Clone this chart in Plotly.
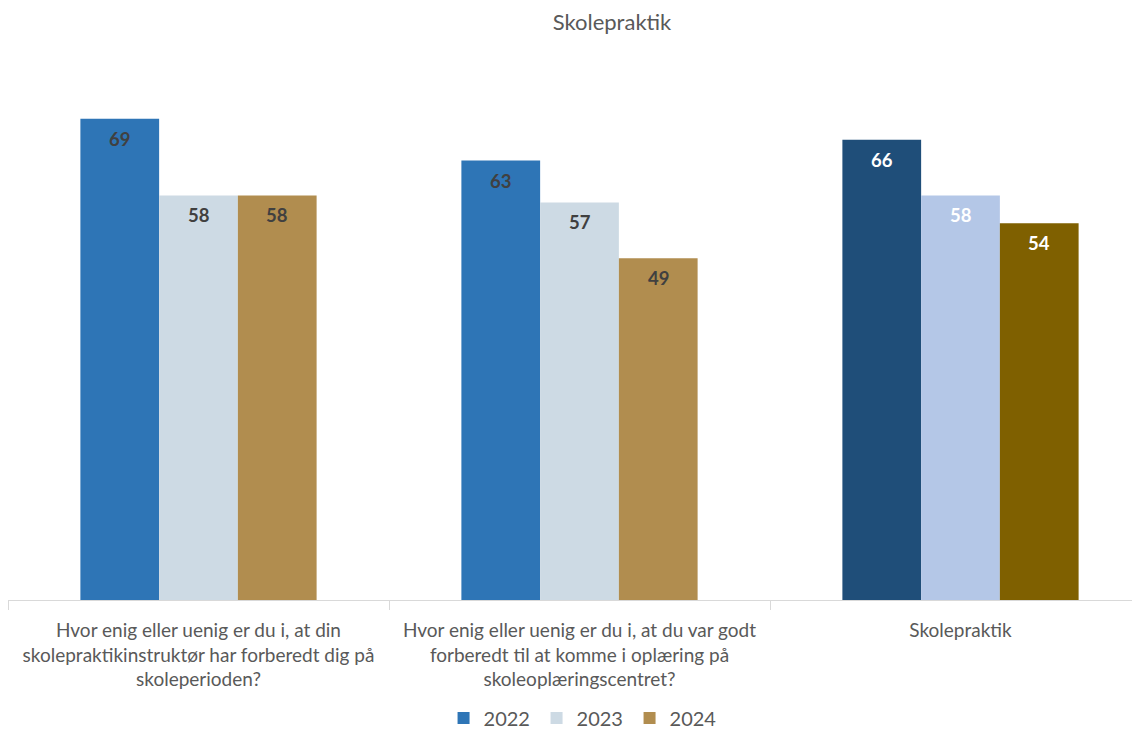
import plotly.graph_objects as go

categories = [
    "Hvor enig eller uenig er du i, at din<br>skolepraktikinstruktør har forberedt dig på<br>skoleperioden?",
    "Hvor enig eller uenig er du i, at du var godt<br>forberedt til at komme i oplæring på<br>skoleoplæringscentret?",
    "Skolepraktik",
]
years = ["2022", "2023", "2024"]
values_2022 = [69, 63, 66]
values_2023 = [58, 57, 58]
values_2024 = [58, 49, 54]

colors_2022 = ["#2E75B6", "#2E75B6", "#1F4E79"]
colors_2023 = ["#CDDAE4", "#CDDAE4", "#B4C7E7"]
colors_2024 = ["#B18D4F", "#B18D4F", "#7F6000"]
label_colors = ["#404040", "#404040", "#FFFFFF"]

FONT = "Lato"
W, H = 1132, 721  # page body adds an 8px margin
BARGAP = 0.38
CAT_PX = 381  # pixel width of one category slot
bar_w = (1 - BARGAP) / 3

fig = go.Figure()
series = [("2022", values_2022, colors_2022),
          ("2023", values_2023, colors_2023),
          ("2024", values_2024, colors_2024)]
for name, vals, cols in series:
    fig.add_trace(go.Bar(
        name=name, x=categories, y=vals,
        marker=dict(color=cols, line=dict(width=0)),
        hoverinfo="skip",
    ))

annotations = []
for j, (name, vals, cols) in enumerate(series):
    for i, v in enumerate(vals):
        annotations.append(dict(
            x=i + (j - 1) * bar_w, y=v, xref="x", yref="y",
            text=f"<b>{v:.0f}</b>", showarrow=False,
            yanchor="middle", yshift=-20,
            font=dict(family=FONT, size=18.5, color=label_colors[i]),
        ))

fig.update_layout(
    width=W, height=H,
    barmode="group", bargap=BARGAP, bargroupgap=0,
    paper_bgcolor="white", plot_bgcolor="white",
    margin=dict(l=0, r=0, t=34, b=129, autoexpand=False),
    title=dict(text="Skolepraktik", x=604 / W, xanchor="center", y=1 - 14 / H,
               yanchor="middle", font=dict(family=FONT, size=22, color="#595959")),
    font=dict(family=FONT, color="#595959"),
    showlegend=True,
    legend=dict(orientation="h", x=0.508, xanchor="center", y=-0.2115, yanchor="middle",
                font=dict(family=FONT, size=20, color="#595959"), traceorder="normal",
                entrywidth=48),
    annotations=annotations,
    xaxis=dict(showline=True, linecolor="#D9D9D9", linewidth=1, automargin=False,
               range=[-0.5, -0.5 + W / CAT_PX],
               ticks="outside", tickson="boundaries", ticklen=9, tickcolor="#D9D9D9",
               ticklabelstandoff=13,
               tickfont=dict(family=FONT, size=19, color="#595959"), showgrid=False),
    yaxis=dict(range=[0, 80], visible=False, showgrid=False, automargin=False),
)

fig.write_html("out.html")
